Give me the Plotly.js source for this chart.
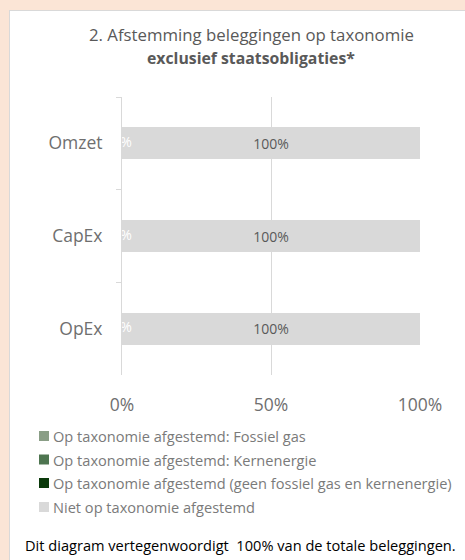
<!DOCTYPE html>
<html>
<head>
<meta charset="utf-8">
<script src="https://cdn.plot.ly/plotly-3.0.1.min.js"></script>
<style>
  html, body { margin:0; padding:0; background:#FBE5D6; width:465px; height:560px; overflow:hidden; }
  #panel { position:absolute; left:9px; top:10px; width:456px; height:550px; background:#fff;
           border-top:1px solid #d9d9d9; border-left:1px solid #d9d9d9; box-sizing:border-box; }
  #chart { position:absolute; left:0; top:0; width:455px; height:549px; }
</style>
</head>
<body>
<div id="panel"><div id="chart"></div></div>
<script>
// ---- data ----
const categories = ["Omzet", "CapEx", "OpEx"];
const seriesNames = [
  "Op taxonomie afgestemd: Fossiel gas",
  "Op taxonomie afgestemd: Kernenergie",
  "Op taxonomie afgestemd (geen fossiel gas en kernenergie)",
  "Niet op taxonomie afgestemd"
];
const fossielGas = [0, 0, 0];
const kernenergie = [0, 0, 0];
const afgestemd = [0, 0, 0];
const nietAfgestemd = [100, 100, 100];
const xTickVals = [0, 50, 100];
const xTickText = ["0%", "50%", "100%"];
const titleLine1 = "2. Afstemming beleggingen op taxonomie";
const titleLine2 = "exclusief staatsobligaties*";
const footnote = "Dit diagram vertegenwoordigt  100% van de totale beleggingen.";

// ---- styling ----
const colors = ["#8A9E86", "#4E7550", "#0B3A0B", "#D9D9D9"];
const values = [fossielGas, kernenergie, afgestemd, nietAfgestemd];
const FONT = "'Open Sans', Lato, sans-serif";
const GREY = "#595959";
const TICKGREY = "#6F6F6F";
const LEGGREY = "#7A7A7A";

const W = 455, H = 549;
const M = {l:112, r:45, t:86, b:185};
const PW = W - M.l - M.r, PH = H - M.t - M.b;
const px2x = p => (p - M.l) / PW;
const px2y = p => (H - M.b - p) / PH;

const traces = values.map((v, i) => ({
  type: "bar", orientation: "h",
  x: v, y: categories, name: seriesNames[i],
  marker: {color: colors[i]},
  text: i === 3 ? v.map(n => n + "%") : undefined,
  textposition: i === 3 ? "inside" : "none",
  insidetextanchor: "middle",
  textfont: {family: FONT, size: 14, color: GREY},
  hoverinfo: "x+y+name",
  showlegend: false
}));
// labels for the aligned (zero) series
traces.push({
  type: "scatter", mode: "text",
  x: afgestemd, y: categories,
  text: afgestemd.map(n => n + "%"),
  textposition: "middle center",
  cliponaxis: false,
  textfont: {family: FONT, size: 14, color: "#FFFFFF"},
  hoverinfo: "skip", showlegend: false
});

// manual legend (squares + text)
const legY = [425, 448.5, 472, 496];
const shapes = [], annotations = [];
seriesNames.forEach((n, i) => {
  shapes.push({type: "rect", xref: "paper", yref: "paper",
    x0: px2x(29), x1: px2x(39), y0: px2y(legY[i] + 5), y1: px2y(legY[i] - 5),
    fillcolor: colors[i], line: {width: 0}});
  annotations.push({xref: "paper", yref: "paper", x: px2x(41), y: px2y(legY[i]),
    xanchor: "left", yanchor: "middle", showarrow: false, text: n,
    font: {family: FONT, size: 14.6, color: LEGGREY}});
});
annotations.push({xref: "paper", yref: "paper", x: px2x(230), y: px2y(534),
  xanchor: "center", yanchor: "middle", showarrow: false, text: footnote,
  font: {family: FONT, size: 14.6, color: "#000000"}});
annotations.push({xref: "paper", yref: "paper", x: px2x(241), y: px2y(23),
  xanchor: "center", yanchor: "middle", showarrow: false, text: titleLine1,
  font: {family: FONT, size: 16.8, color: GREY}});
annotations.push({xref: "paper", yref: "paper", x: px2x(241), y: px2y(47),
  xanchor: "center", yanchor: "middle", showarrow: false, text: "<b>" + titleLine2 + "</b>",
  font: {family: FONT, size: 15.8, color: GREY}});

const layout = {
  width: W, height: H,
  margin: M,
  paper_bgcolor: "#FFFFFF", plot_bgcolor: "#FFFFFF",
  barmode: "stack", bargap: 0.655,
  showlegend: false,
  xaxis: {
    range: [0, 100], tickvals: xTickVals, ticktext: xTickText,
    showgrid: true, gridcolor: "#D9D9D9", gridwidth: 1,
    zeroline: false, showline: false, ticks: "",
    ticklabelstandoff: 17,
    tickfont: {family: FONT, size: 17.5, color: TICKGREY},
    fixedrange: true
  },
  yaxis: {
    type: "category", categoryorder: "array", categoryarray: categories,
    range: [2.5, -0.5], tickson: "boundaries",
    showline: true, linecolor: "#D9D9D9", linewidth: 1,
    ticks: "outside", ticklen: 5, tickcolor: "#D9D9D9",
    showgrid: false, zeroline: false,
    ticklabelstandoff: 15,
    tickfont: {family: FONT, size: 17.5, color: TICKGREY},
    fixedrange: true
  },
  shapes: shapes,
  annotations: annotations
};

Plotly.newPlot("chart", traces, layout, {displayModeBar: false, staticPlot: true});
</script>
</body>
</html>
